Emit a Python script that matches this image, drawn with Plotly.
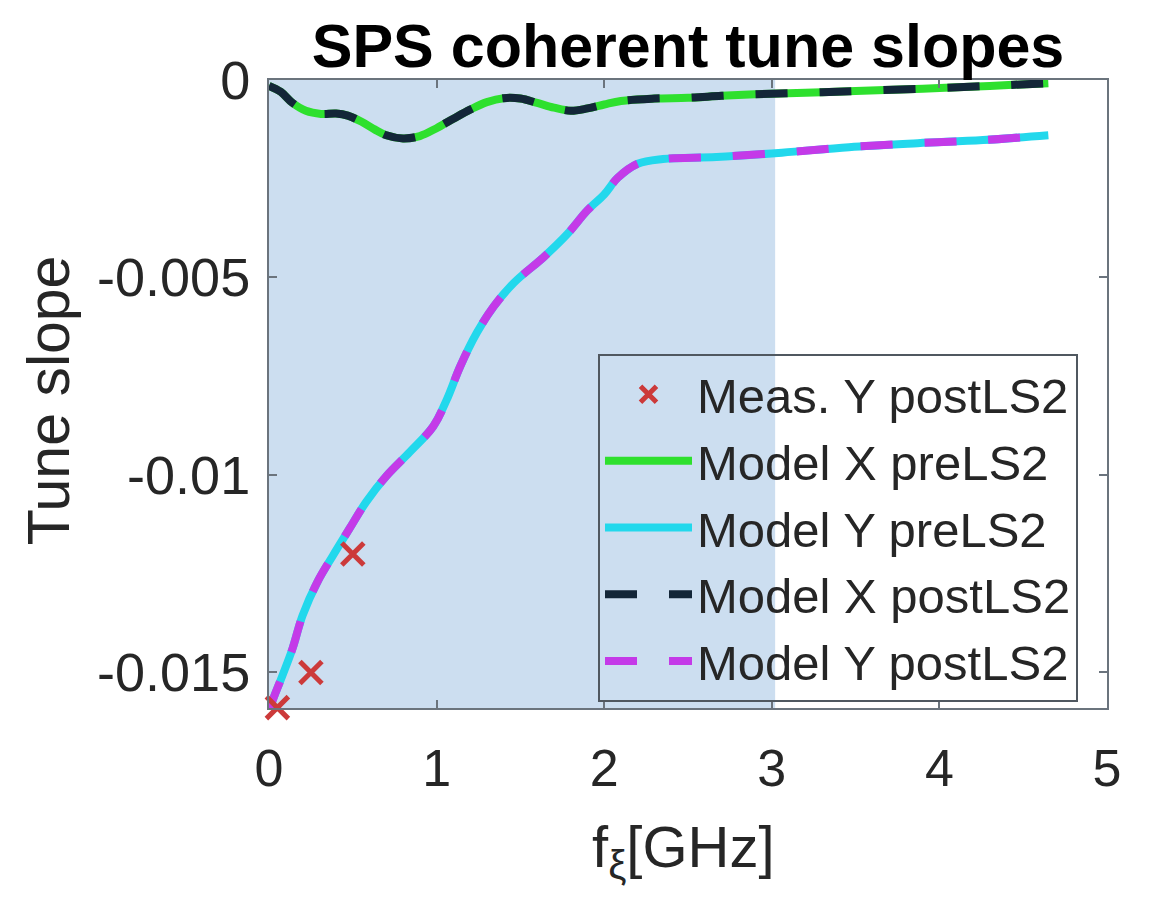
import plotly.graph_objects as go

# ---- data ----
model_x_f = [0.00, 0.07, 0.14, 0.22, 0.31, 0.40, 0.47, 0.55, 0.63, 0.70, 0.80, 0.90,
             1.00, 1.10, 1.20, 1.30, 1.40, 1.50, 1.60, 1.70, 1.80, 1.90, 2.00, 2.10,
             2.30, 2.50, 2.70, 2.90, 3.20, 3.50, 3.90, 4.30, 4.65]
model_x_pre = [-0.00015, -0.00030, -0.00058, -0.00078, -0.00086, -0.00085, -0.00090,
               -0.00105, -0.00125, -0.00140, -0.00148, -0.00142, -0.00122, -0.00098,
               -0.00075, -0.00056, -0.00046, -0.00047, -0.00058, -0.00070, -0.00078,
               -0.00072, -0.00062, -0.00053, -0.00047, -0.00045, -0.00040, -0.00036,
               -0.00032, -0.00028, -0.00022, -0.00015, -0.00008]
model_x_post = [-0.00015, -0.00030, -0.00058, -0.00078, -0.00086, -0.00085, -0.00090,
                -0.00105, -0.00125, -0.00140, -0.00148, -0.00142, -0.00122, -0.00098,
                -0.00075, -0.00056, -0.00046, -0.00047, -0.00058, -0.00070, -0.00078,
                -0.00072, -0.00062, -0.00053, -0.00047, -0.00045, -0.00040, -0.00036,
                -0.00032, -0.00028, -0.00022, -0.00015, -0.00008]

model_y_f = [0.00, 0.02, 0.08, 0.14, 0.20, 0.29, 0.38, 0.48, 0.58, 0.70, 0.84, 0.98,
             1.06, 1.14, 1.24, 1.34, 1.46, 1.64, 1.78, 1.90, 2.00, 2.08, 2.20, 2.35,
             2.67, 3.06, 3.46, 3.87, 4.26, 4.65]
model_y_pre = [-0.01600, -0.01573, -0.01508, -0.01440, -0.01356, -0.01270, -0.01205,
               -0.01136, -0.01068, -0.01003, -0.00942, -0.00877, -0.00810, -0.00726,
               -0.00640, -0.00574, -0.00514, -0.00448, -0.00390, -0.00330, -0.00290,
               -0.00248, -0.00212, -0.00200, -0.00195, -0.00184, -0.00170, -0.00160,
               -0.00152, -0.00140]
model_y_post = [-0.01600, -0.01573, -0.01508, -0.01440, -0.01356, -0.01270, -0.01205,
                -0.01136, -0.01068, -0.01003, -0.00942, -0.00877, -0.00810, -0.00726,
                -0.00640, -0.00574, -0.00514, -0.00448, -0.00390, -0.00330, -0.00290,
                -0.00248, -0.00212, -0.00200, -0.00195, -0.00184, -0.00170, -0.00160,
                -0.00152, -0.00140]

meas_f = [0.05, 0.25, 0.50]
meas_y = [-0.01589, -0.0150, -0.0120]

shade_f = [0.0, 3.02]

x_ticks = [0, 1, 2, 3, 4, 5]
x_ticktext = ["0", "1", "2", "3", "4", "5"]
y_ticks = [0, -0.005, -0.01, -0.015]
y_ticktext = ["0", "-0.005", "-0.01", "-0.015"]

x_title = "f<sub>ξ</sub>[GHz]"
y_title = "Tune slope"
chart_title = "<b>SPS coherent tune slopes</b>"

FONT = "Liberation Sans, Arial, Helvetica, sans-serif"
TXT = "#262626"
AX = "#6b747d"

fig = go.Figure()

fig.add_trace(go.Scatter(x=model_x_f, y=model_x_pre, mode="lines", name="Model X preLS2",
                         line=dict(color="#2ee02e", width=8, shape="spline"), legendrank=2))
fig.add_trace(go.Scatter(x=model_y_f, y=model_y_pre, mode="lines", name="Model Y preLS2",
                         line=dict(color="#22d8ec", width=8, shape="spline"), legendrank=3))
fig.add_trace(go.Scatter(x=model_x_f, y=model_x_post, mode="lines", name="Model X postLS2",
                         line=dict(color="#132638", width=8, shape="spline", dash="32px,32px"),
                         legendrank=4))
fig.add_trace(go.Scatter(x=model_y_f, y=model_y_post, mode="lines", name="Model Y postLS2",
                         line=dict(color="#c43ae8", width=8, shape="spline", dash="32px,32px"),
                         legendrank=5))
fig.add_trace(go.Scatter(x=meas_f, y=meas_y, mode="markers", name="Meas. Y postLS2",
                         marker=dict(symbol="x-thin", size=22,
                                     line=dict(color="#cc3a3a", width=5), color="#cc3a3a"),
                         cliponaxis=False, legendrank=1))

fig.add_shape(type="rect", xref="x", yref="paper", x0=shade_f[0], x1=shade_f[1],
              y0=0, y1=1, fillcolor="rgb(204,222,240)", line=dict(width=0), layer="below")

# axis titles placed as annotations for precise positioning
fig.add_annotation(text=x_title, xref="paper", yref="paper", x=0.495, y=-0.165,
                   xanchor="center", yanchor="top", showarrow=False,
                   font=dict(family=FONT, size=58, color=TXT))
fig.add_annotation(text=y_title, xref="paper", yref="paper", x=-0.2625, y=0.490,
                   xanchor="center", yanchor="middle", textangle=-90, showarrow=False,
                   font=dict(family=FONT, size=59, color=TXT))

fig.update_layout(
    width=1150, height=903,
    margin=dict(l=261, r=51, t=72, b=203),
    paper_bgcolor="white", plot_bgcolor="white",
    font=dict(family=FONT, color=TXT, size=50),
    title=dict(text=chart_title, x=0.5, xref="paper", xanchor="center",
               y=1 - 38 / 903, yanchor="middle", yref="container",
               font=dict(family=FONT, size=61, color="#000000")),
    showlegend=True,
    legend=dict(x=0.3926, y=0.564, xanchor="left", yanchor="top",
                bgcolor="rgba(0,0,0,0)", bordercolor="#505860", borderwidth=2,
                font=dict(family=FONT, size=49, color=TXT), tracegroupgap=0,
                itemwidth=87),
    xaxis=dict(range=[0, 5], tickvals=x_ticks, ticktext=x_ticktext,
               ticks="inside", ticklen=8, tickcolor=AX, tickwidth=2,
               showline=True, linecolor=AX, linewidth=2, mirror="ticks",
               showgrid=False, zeroline=False, ticklabelstandoff=14, automargin=False,
               tickfont=dict(family=FONT, size=52, color=TXT)),
    yaxis=dict(range=[-0.0159, 0], tickvals=y_ticks, ticktext=y_ticktext,
               ticks="inside", ticklen=8, tickcolor=AX, tickwidth=2,
               showline=True, linecolor=AX, linewidth=2, mirror="ticks",
               showgrid=False, zeroline=False, ticklabelstandoff=6, automargin=False,
               tickfont=dict(family=FONT, size=54, color=TXT)),
)

fig.write_html("out.html")
